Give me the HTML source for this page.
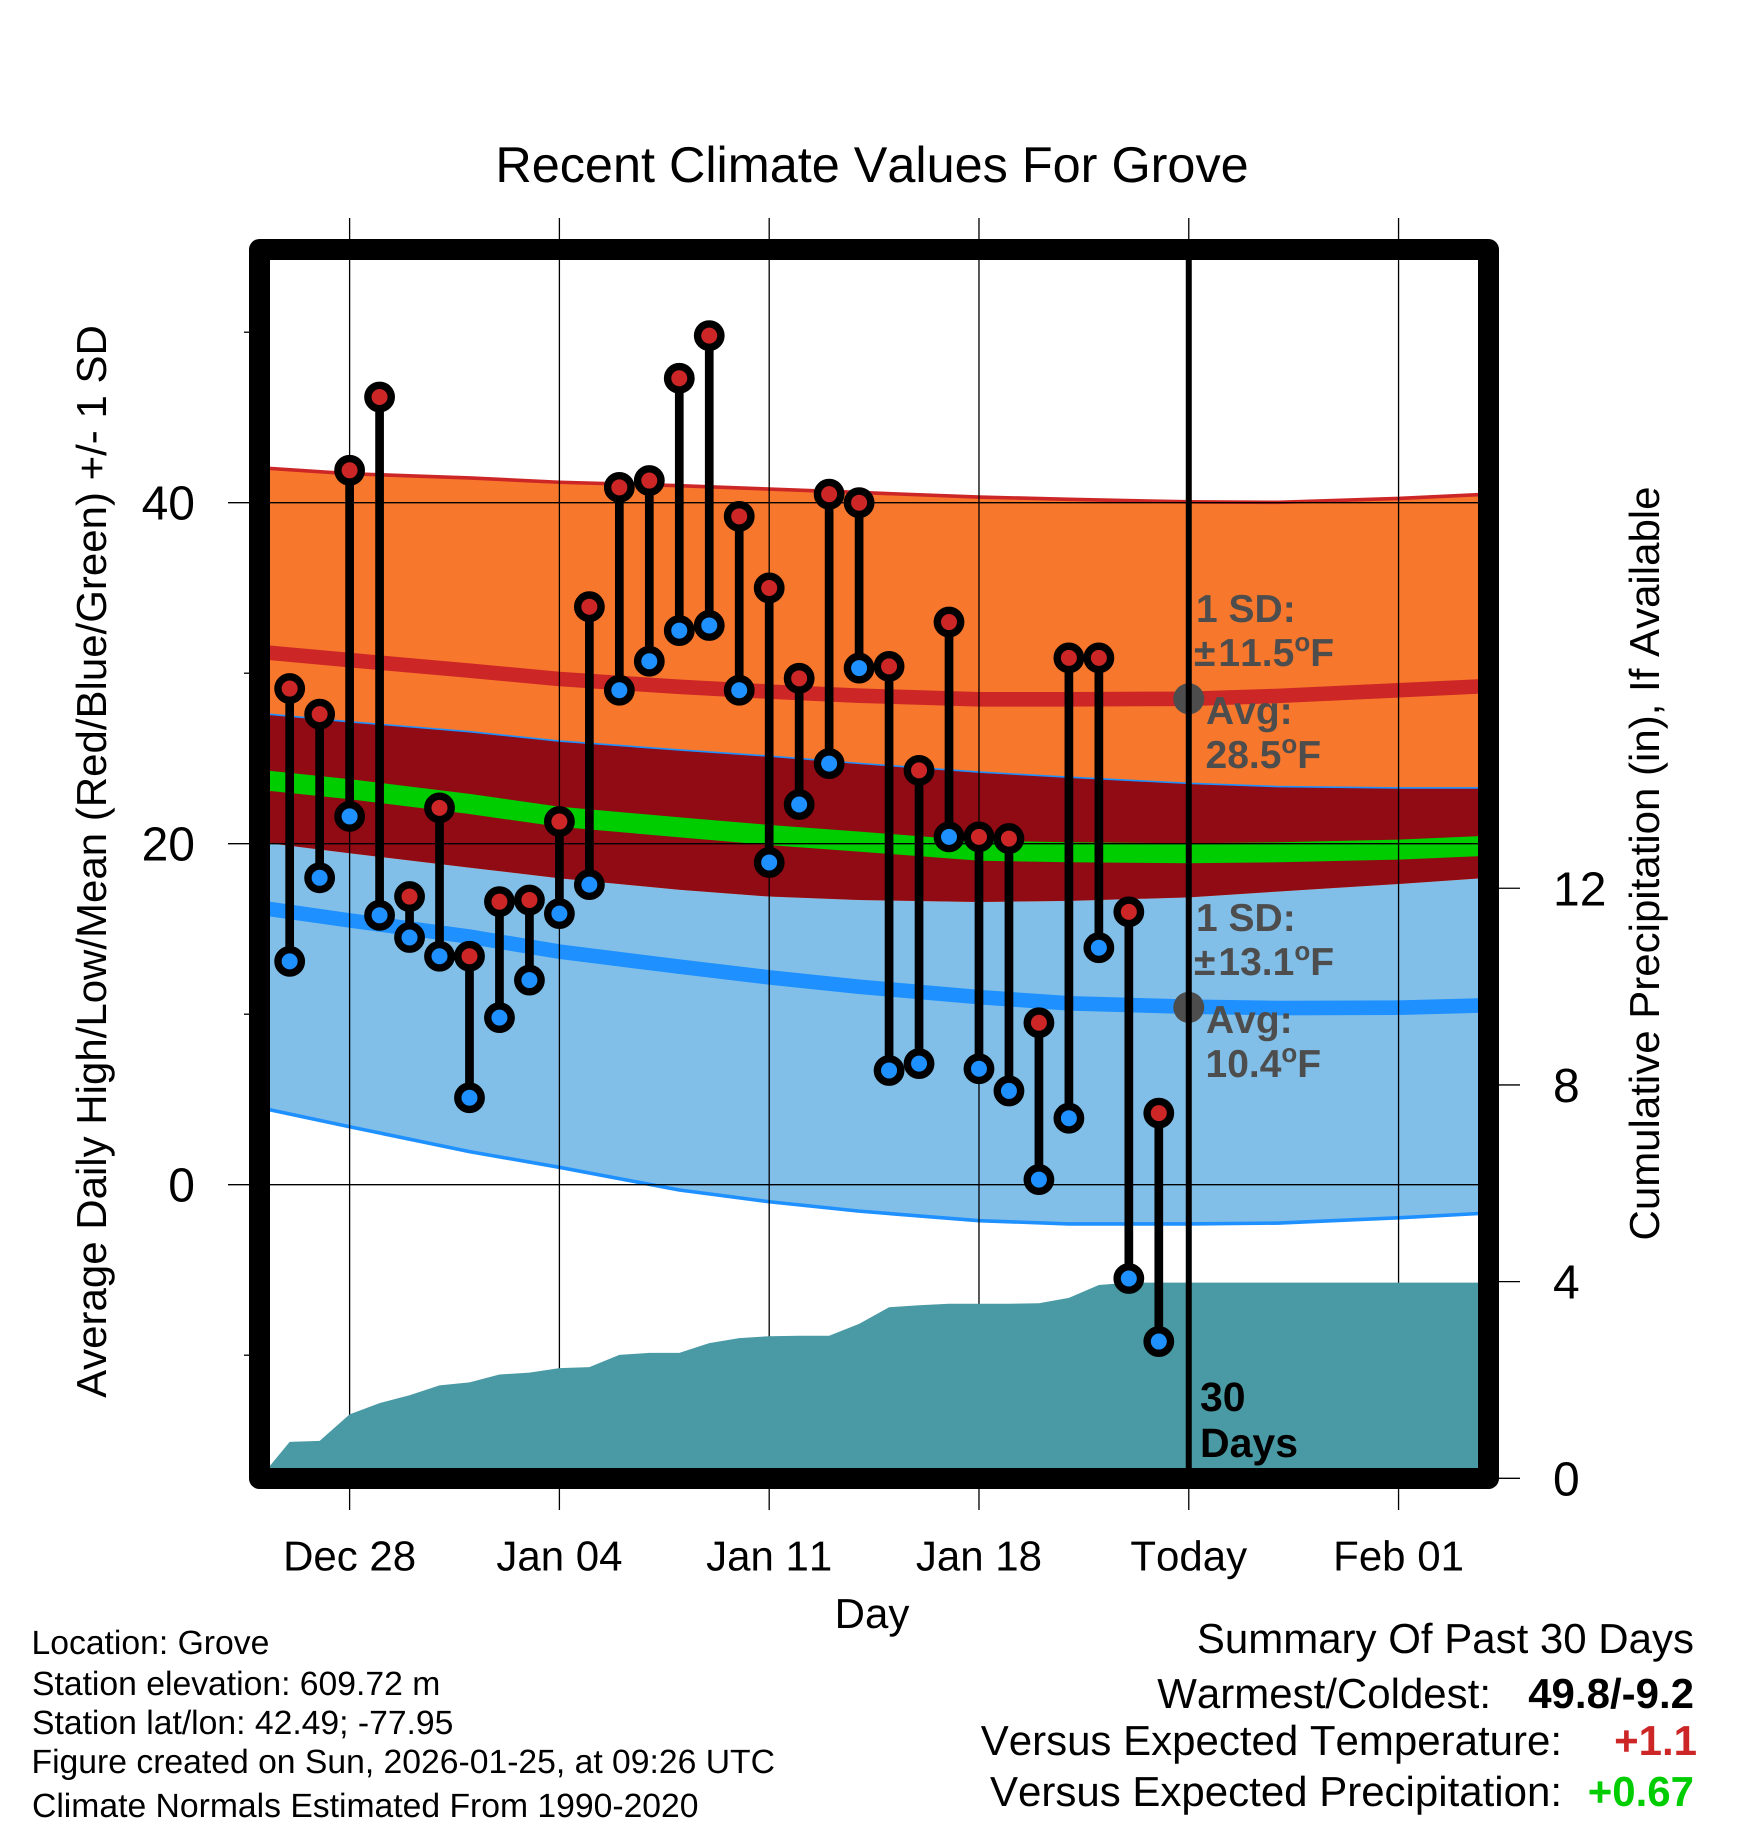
<!DOCTYPE html>
<html lang="en">
<head>
<meta charset="utf-8">
<title>Recent Climate Values For Grove</title>
<style>
html,body{margin:0;padding:0;background:#fff;width:1748px;height:1828px;overflow:hidden}
svg{display:block}
text{font-family:"Liberation Sans",Arial,Helvetica,sans-serif;fill:#000;text-rendering:geometricPrecision;font-kerning:none}
.lbl{font-size:42px}
.tick{font-size:48px}
.info{font-size:33.7px}
.ann{font-size:39px;font-weight:bold;fill:#4D4D4D}
.sup{font-size:26px}
.b{font-weight:bold}
</style>
</head>
<body>
<svg id="chart" xmlns="http://www.w3.org/2000/svg" width="1748" height="1828" viewBox="0 0 1748 1828">
  <rect x="0" y="0" width="1748" height="1828" fill="#fff"/>
  <g id="bands"></g>
  <g id="grid"></g>
  <g id="precip"></g>
  <g id="avgDots"></g>
  <g id="points"></g>
  <g id="today"></g>
  <rect x="259.5" y="249.5" width="1229" height="1229" fill="none" stroke="#000" stroke-width="21" stroke-linejoin="round"/>
  <g id="ticks"></g>

  <text x="872" y="182" text-anchor="middle" font-size="50.4">Recent Climate Values For Grove</text>
  <text class="lbl" transform="translate(106,861.5) rotate(-90)" text-anchor="middle">Average Daily High/Low/Mean (Red/Blue/Green) +/- 1 SD</text>
  <text class="lbl" transform="translate(1659,863.5) rotate(-90)" text-anchor="middle">Cumulative Precipitation (in), If Available</text>
  <text class="lbl" x="872" y="1628" text-anchor="middle">Day</text>

  <text class="ann" x="1196" y="622">1 SD:</text>
  <text class="ann" x="1194" y="666">±<tspan dx="3">11.5</tspan><tspan class="sup" dy="-15">o</tspan><tspan dy="15">F</tspan></text>
  <text class="ann" x="1206" y="724">Avg:</text>
  <text class="ann" x="1205.5" y="768">28.5<tspan class="sup" dy="-15">o</tspan><tspan dy="15">F</tspan></text>
  <text class="ann" x="1196" y="931">1 SD:</text>
  <text class="ann" x="1194" y="975">±<tspan dx="3">13.1</tspan><tspan class="sup" dy="-15">o</tspan><tspan dy="15">F</tspan></text>
  <text class="ann" x="1206" y="1033">Avg:</text>
  <text class="ann" x="1205.5" y="1077">10.4<tspan class="sup" dy="-15">o</tspan><tspan dy="15">F</tspan></text>
  <text class="b" font-size="41" x="1200" y="1411">30</text>
  <text class="b" font-size="41" x="1200" y="1457">Days</text>

  <text class="info" x="31.5" y="1654">Location: Grove</text>
  <text class="info" x="32" y="1695">Station elevation: 609.72 m</text>
  <text class="info" x="32" y="1734">Station lat/lon: 42.49; -77.95</text>
  <text class="info" x="31.5" y="1773">Figure created on Sun, 2026-01-25, at 09:26 UTC</text>
  <text class="info" x="32" y="1817">Climate Normals Estimated From 1990-2020</text>

  <text class="lbl" x="1694" y="1653" text-anchor="end">Summary Of Past 30 Days</text>
  <text class="lbl" x="1491" y="1708" text-anchor="end">Warmest/Coldest:</text>
  <text class="lbl b" x="1694" y="1708" text-anchor="end">49.8/-9.2</text>
  <text class="lbl" x="1562" y="1755" text-anchor="end">Versus Expected Temperature:</text>
  <text class="lbl b" x="1697" y="1755" text-anchor="end" style="fill:#CD2626">+1.1</text>
  <text class="lbl" x="1562" y="1806" text-anchor="end">Versus Expected Precipitation:</text>
  <text class="lbl b" x="1694" y="1806" text-anchor="end" style="fill:#00CD00">+0.67</text>
</svg>

<script>
// ---- data ----
const normalDays = [0, 3, 7, 10, 14, 17, 20, 24, 27, 31, 34, 38, 41];
const highUpper = [42.05, 41.7, 41.45, 41.2, 41.0, 40.8, 40.6, 40.33, 40.2, 40.05, 40.02, 40.25, 40.5];
const highMean = [31.25, 30.77, 30.15, 29.66, 29.2, 28.92, 28.68, 28.47, 28.47, 28.5, 28.67, 29.0, 29.25];
const highLower = [20.1, 19.44, 18.6, 17.97, 17.3, 16.9, 16.7, 16.58, 16.65, 16.85, 17.2, 17.64, 18.0];
const lowUpper = [27.65, 27.15, 26.57, 26.02, 25.5, 25.14, 24.71, 24.2, 23.9, 23.54, 23.35, 23.27, 23.27];
const lowMean = [16.25, 15.5, 14.55, 13.67, 12.79, 12.16, 11.61, 11.0, 10.64, 10.44, 10.36, 10.38, 10.52];
const lowLower = [4.52, 3.4, 1.94, 1.02, -0.31, -1.0, -1.55, -2.11, -2.3, -2.3, -2.25, -1.94, -1.66];
const overallMean = [23.75, 23.2, 22.33, 21.58, 20.96, 20.51, 20.12, 19.59, 19.5, 19.44, 19.5, 19.65, 19.88];

const dailyHighs = [29.1, 27.6, 41.9, 46.2, 16.9, 22.1, 13.4, 16.6, 16.7, 21.3, 33.9, 40.9, 41.3, 47.3, 49.8, 39.2, 35.0, 29.7, 40.5, 40.0, 30.4, 24.3, 33.0, 20.4, 20.3, 9.5, 30.9, 30.9, 16.0, 4.2];
const dailyLows = [13.1, 18.0, 21.6, 15.8, 14.5, 13.4, 5.1, 9.8, 12.0, 15.9, 17.6, 29.0, 30.7, 32.5, 32.8, 29.0, 18.9, 22.3, 24.7, 30.3, 6.7, 7.1, 20.4, 6.8, 5.5, 0.3, 3.9, 13.9, -5.5, -9.2];

const precipDays = [0, 1, 2, 3, 4, 5, 6, 7, 8, 9, 10, 11, 12, 13, 14, 15, 16, 17, 18, 19, 20, 21, 22, 23, 24, 25, 26, 27, 28, 29, 30, 31, 41];
const precipValues = [0, 0.74, 0.76, 1.30, 1.53, 1.69, 1.89, 1.95, 2.11, 2.15, 2.24, 2.26, 2.51, 2.55, 2.55, 2.75, 2.85, 2.89, 2.90, 2.90, 3.14, 3.48, 3.52, 3.55, 3.55, 3.55, 3.56, 3.67, 3.93, 3.98, 3.98, 3.98, 3.98];

const xTickDays = [3, 10, 17, 24, 31, 38];
const xTickLabels = ['Dec 28', 'Jan 04', 'Jan 11', 'Jan 18', 'Today', 'Feb 01'];
const tempMajorTicks = [0, 20, 40];
const tempMinorTicks = [-10, 10, 30, 50];
const precipTicks = [0, 4, 8, 12];
const todayDay = 31;
const todayHighAvg = 28.5;
const todayLowAvg = 10.4;

// ---- axis functions ----
function xDay(d) { return 259.7 + 29.97 * d; }
function yTemp(t) { return 1184.7 - 17.05 * t; }
function yPrecip(p) { return 1478.3 - 49.17 * p; }

// ---- helpers ----
const NS = 'http://www.w3.org/2000/svg';
function make(tag, parentId) {
  const el = document.createElementNS(NS, tag);
  document.getElementById(parentId).appendChild(el);
  return el;
}
function linePts(days, vals, yFn) {
  return days.map(function (d, i) { return xDay(d).toFixed(2) + ',' + yFn(vals[i]).toFixed(2); });
}
function bandPts(upper, lower) {
  return linePts(normalDays, upper, yTemp).concat(linePts(normalDays, lower, yTemp).reverse()).join(' ');
}

// ---- bands ----
let el;
el = make('polygon', 'bands');


el.setAttribute('points', bandPts(lowUpper, lowLower));
el.setAttribute('fill', '#82BFE8');

el = make('polyline', 'bands');


el.setAttribute('points', linePts(normalDays, lowLower, yTemp).join(' '));
el.setAttribute('fill', 'none');
el.setAttribute('stroke', '#1E90FF');
el.setAttribute('stroke-width', '3.6');
el.setAttribute('stroke-linejoin', 'round');

el = make('polygon', 'bands');


el.setAttribute('points', bandPts(highUpper, highLower));
el.setAttribute('fill', '#F7782C');

el = make('polyline', 'bands');


el.setAttribute('points', linePts(normalDays, highUpper, yTemp).join(' '));
el.setAttribute('fill', 'none');
el.setAttribute('stroke', '#CD2626');
el.setAttribute('stroke-width', '3.6');
el.setAttribute('stroke-linejoin', 'round');

el = make('polygon', 'bands');


el.setAttribute('points', bandPts(lowUpper, highLower));
el.setAttribute('fill', '#900B14');

el = make('polyline', 'bands');


el.setAttribute('points', linePts(normalDays, lowUpper, yTemp).join(' '));
el.setAttribute('fill', 'none');
el.setAttribute('stroke', '#1E90FF');
el.setAttribute('stroke-width', '1.6');

el = make('polyline', 'bands');


el.setAttribute('points', linePts(normalDays, highMean, yTemp).join(' '));
el.setAttribute('fill', 'none');
el.setAttribute('stroke', '#CD2626');
el.setAttribute('stroke-width', '14.6');
el.setAttribute('stroke-linejoin', 'round');

el = make('polyline', 'bands');


el.setAttribute('points', linePts(normalDays, lowMean, yTemp).join(' '));
el.setAttribute('fill', 'none');
el.setAttribute('stroke', '#1E90FF');
el.setAttribute('stroke-width', '14.6');
el.setAttribute('stroke-linejoin', 'round');

el = make('polyline', 'bands');


el.setAttribute('points', linePts(normalDays, overallMean, yTemp).join(' '));
el.setAttribute('fill', 'none');
el.setAttribute('stroke', '#00CD00');
el.setAttribute('stroke-width', '20');
el.setAttribute('stroke-linejoin', 'round');

// ---- grid ----
xTickDays.forEach(function (d) {
  const g = make('line', 'grid');
  
  
  g.setAttribute('x1', xDay(d));
  g.setAttribute('x2', xDay(d));
  g.setAttribute('y1', 218);
  g.setAttribute('y2', 1510);
  g.setAttribute('stroke', '#000');
  g.setAttribute('stroke-width', '1.3');
});
tempMajorTicks.forEach(function (t) {
  const g = make('line', 'grid');
  
  
  g.setAttribute('x1', 228);
  g.setAttribute('x2', 1482);
  g.setAttribute('y1', yTemp(t));
  g.setAttribute('y2', yTemp(t));
  g.setAttribute('stroke', '#000');
  g.setAttribute('stroke-width', '1.3');
});

// ---- precipitation ----
el = make('polygon', 'precip');


el.setAttribute('points', linePts(precipDays, precipValues, yPrecip).concat([xDay(41) + ',' + yPrecip(0), xDay(0) + ',' + yPrecip(0)]).join(' '));
el.setAttribute('fill', '#4A9AA5');

// ---- today's average dots ----
[todayHighAvg, todayLowAvg].forEach(function (t) {
  const c = make('circle', 'avgDots');
  
  
  c.setAttribute('cx', xDay(todayDay));
  c.setAttribute('cy', yTemp(t));
  c.setAttribute('r', 15.5);
  c.setAttribute('fill', '#4D4D4D');
});

// ---- daily points ----
dailyHighs.forEach(function (hi, i) {
  const day = i + 1;
  const lo = dailyLows[i];
  const stem = make('line', 'points');
  
  
  stem.setAttribute('x1', xDay(day));
  stem.setAttribute('x2', xDay(day));
  stem.setAttribute('y1', yTemp(hi));
  stem.setAttribute('y2', yTemp(lo));
  stem.setAttribute('stroke', '#000');
  stem.setAttribute('stroke-width', '8.7');

  const low = make('circle', 'points');
  
  
  low.setAttribute('cx', xDay(day));
  low.setAttribute('cy', yTemp(lo));
  low.setAttribute('r', 11.7);
  low.setAttribute('fill', '#1E90FF');
  low.setAttribute('stroke', '#000');
  low.setAttribute('stroke-width', '7.4');

  const high = make('circle', 'points');
  
  
  high.setAttribute('cx', xDay(day));
  high.setAttribute('cy', yTemp(hi));
  high.setAttribute('r', 11.7);
  high.setAttribute('fill', '#CD2626');
  high.setAttribute('stroke', '#000');
  high.setAttribute('stroke-width', '7.4');
});

// ---- today line ----
el = make('line', 'today');


el.setAttribute('x1', xDay(todayDay));
el.setAttribute('x2', xDay(todayDay));
el.setAttribute('y1', 260);
el.setAttribute('y2', 1470);
el.setAttribute('stroke', '#000');
el.setAttribute('stroke-width', '6');

// ---- ticks and tick labels ----
xTickDays.forEach(function (d, i) {
  const t = make('text', 'ticks');
  
  
  t.setAttribute('x', xDay(d));
  t.setAttribute('y', 1570.5);
  t.setAttribute('text-anchor', 'middle');
  t.setAttribute('font-size', '42');
  t.textContent = xTickLabels[i];
});
tempMajorTicks.forEach(function (v) {
  const t = make('text', 'ticks');
  
  
  t.setAttribute('class', 'tick');
  t.setAttribute('x', 195);
  t.setAttribute('y', yTemp(v) + 17);
  t.setAttribute('text-anchor', 'end');
  t.textContent = String(v);
});
tempMinorTicks.forEach(function (v) {
  const m = make('line', 'ticks');
  
  
  m.setAttribute('x1', 244);
  m.setAttribute('x2', 250);
  m.setAttribute('y1', yTemp(v));
  m.setAttribute('y2', yTemp(v));
  m.setAttribute('stroke', '#000');
  m.setAttribute('stroke-width', '1.3');
});
precipTicks.forEach(function (v) {
  const m = make('line', 'ticks');
  
  
  m.setAttribute('x1', 1498);
  m.setAttribute('x2', 1520);
  m.setAttribute('y1', yPrecip(v));
  m.setAttribute('y2', yPrecip(v));
  m.setAttribute('stroke', '#000');
  m.setAttribute('stroke-width', '1.3');

  const t = make('text', 'ticks');
  
  
  t.setAttribute('class', 'tick');
  t.setAttribute('x', 1553);
  t.setAttribute('y', yPrecip(v) + 17);
  t.textContent = String(v);
});
</script>
</body>
</html>
